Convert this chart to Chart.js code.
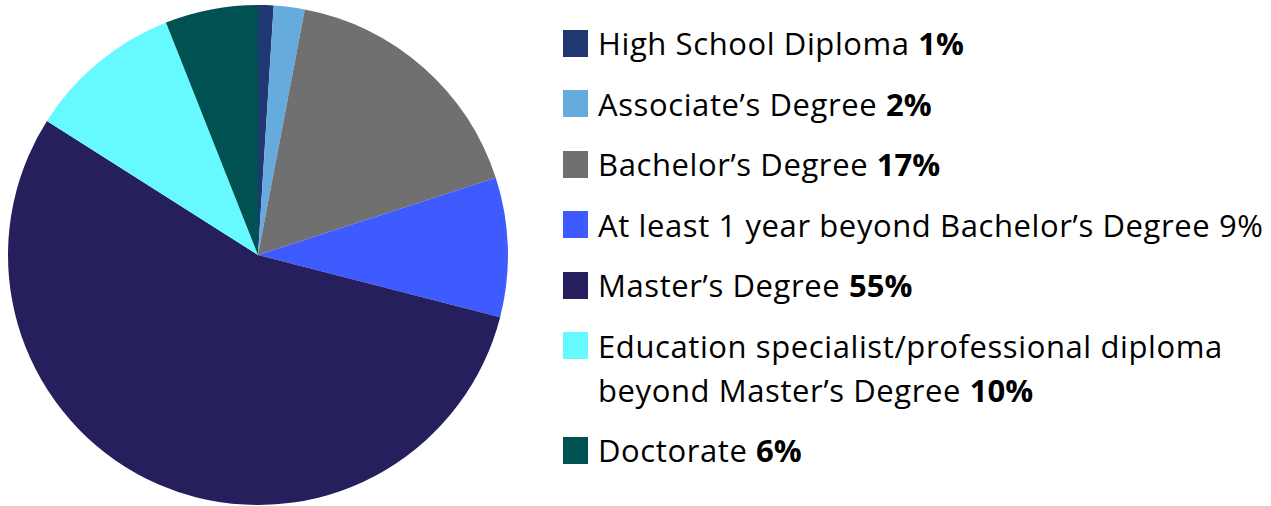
<!DOCTYPE html>
<html>
<head>
<meta charset="utf-8">
<script src="https://cdn.jsdelivr.net/npm/chart.js@4"></script>
<style>
  html, body { margin: 0; padding: 0; background: #fff; }
  #wrap { position: relative; width: 1271px; height: 506px; }
  #pieBox { position: absolute; left: 8px; top: 5px; width: 500px; height: 500px; }
  #legend { position: absolute; left: 563px; top: 21px; font-family: "Open Sans", sans-serif; font-size: 31px; letter-spacing: 0.6px; color: #000; white-space: nowrap; }
  .item { display: flex; align-items: flex-start; margin-bottom: 16.5px; }
  .sw { width: 25px; height: 27px; margin-top: 8.5px; margin-right: 10px; flex: none; }
  .txt { line-height: 44px; }
  .txt b { font-weight: 700; letter-spacing: 0; }
</style>
</head>
<body>
<div id="wrap">
  <div id="pieBox"><canvas id="pie"></canvas></div>
  <div id="legend"></div>
</div>
<script>
// datos del gráfico
const labels = [
  'High School Diploma',
  'Associate\u2019s Degree',
  'Bachelor\u2019s Degree',
  'At least 1 year beyond Bachelor\u2019s Degree',
  'Master\u2019s Degree',
  'Education specialist/professional diploma<br>beyond Master\u2019s Degree',
  'Doctorate'
];
const values = [1, 2, 17, 9, 55, 10, 6];
const colors = ['#1F3871', '#66ABDE', '#707070', '#3D5BFF', '#251F5E', '#66F9FF', '#005252'];

// en el original el 9% no va en negrita
const plainPct = [3];

// leyenda en HTML
const legend = document.getElementById('legend');
labels.forEach((lab, i) => {
  const pct = plainPct.includes(i) ? `${values[i]}%` : `<b>${values[i]}%</b>`;
  const row = document.createElement('div');
  row.className = 'item';
  row.innerHTML = `<div class="sw" style="background:${colors[i]}"></div><div class="txt">${lab} ${pct}</div>`;
  legend.appendChild(row);
});

new Chart(document.getElementById('pie'), {
  type: 'pie',
  data: {
    labels: labels.map(l => l.replace('<br>', ' ')),
    datasets: [{
      data: values,
      backgroundColor: colors,
      borderWidth: 0
    }]
  },
  options: {
    responsive: true,
    maintainAspectRatio: false,
    animation: false,
    layout: { padding: 0 },
    plugins: {
      legend: { display: false },
      tooltip: { enabled: false }
    }
  }
});
</script>
</body>
</html>
